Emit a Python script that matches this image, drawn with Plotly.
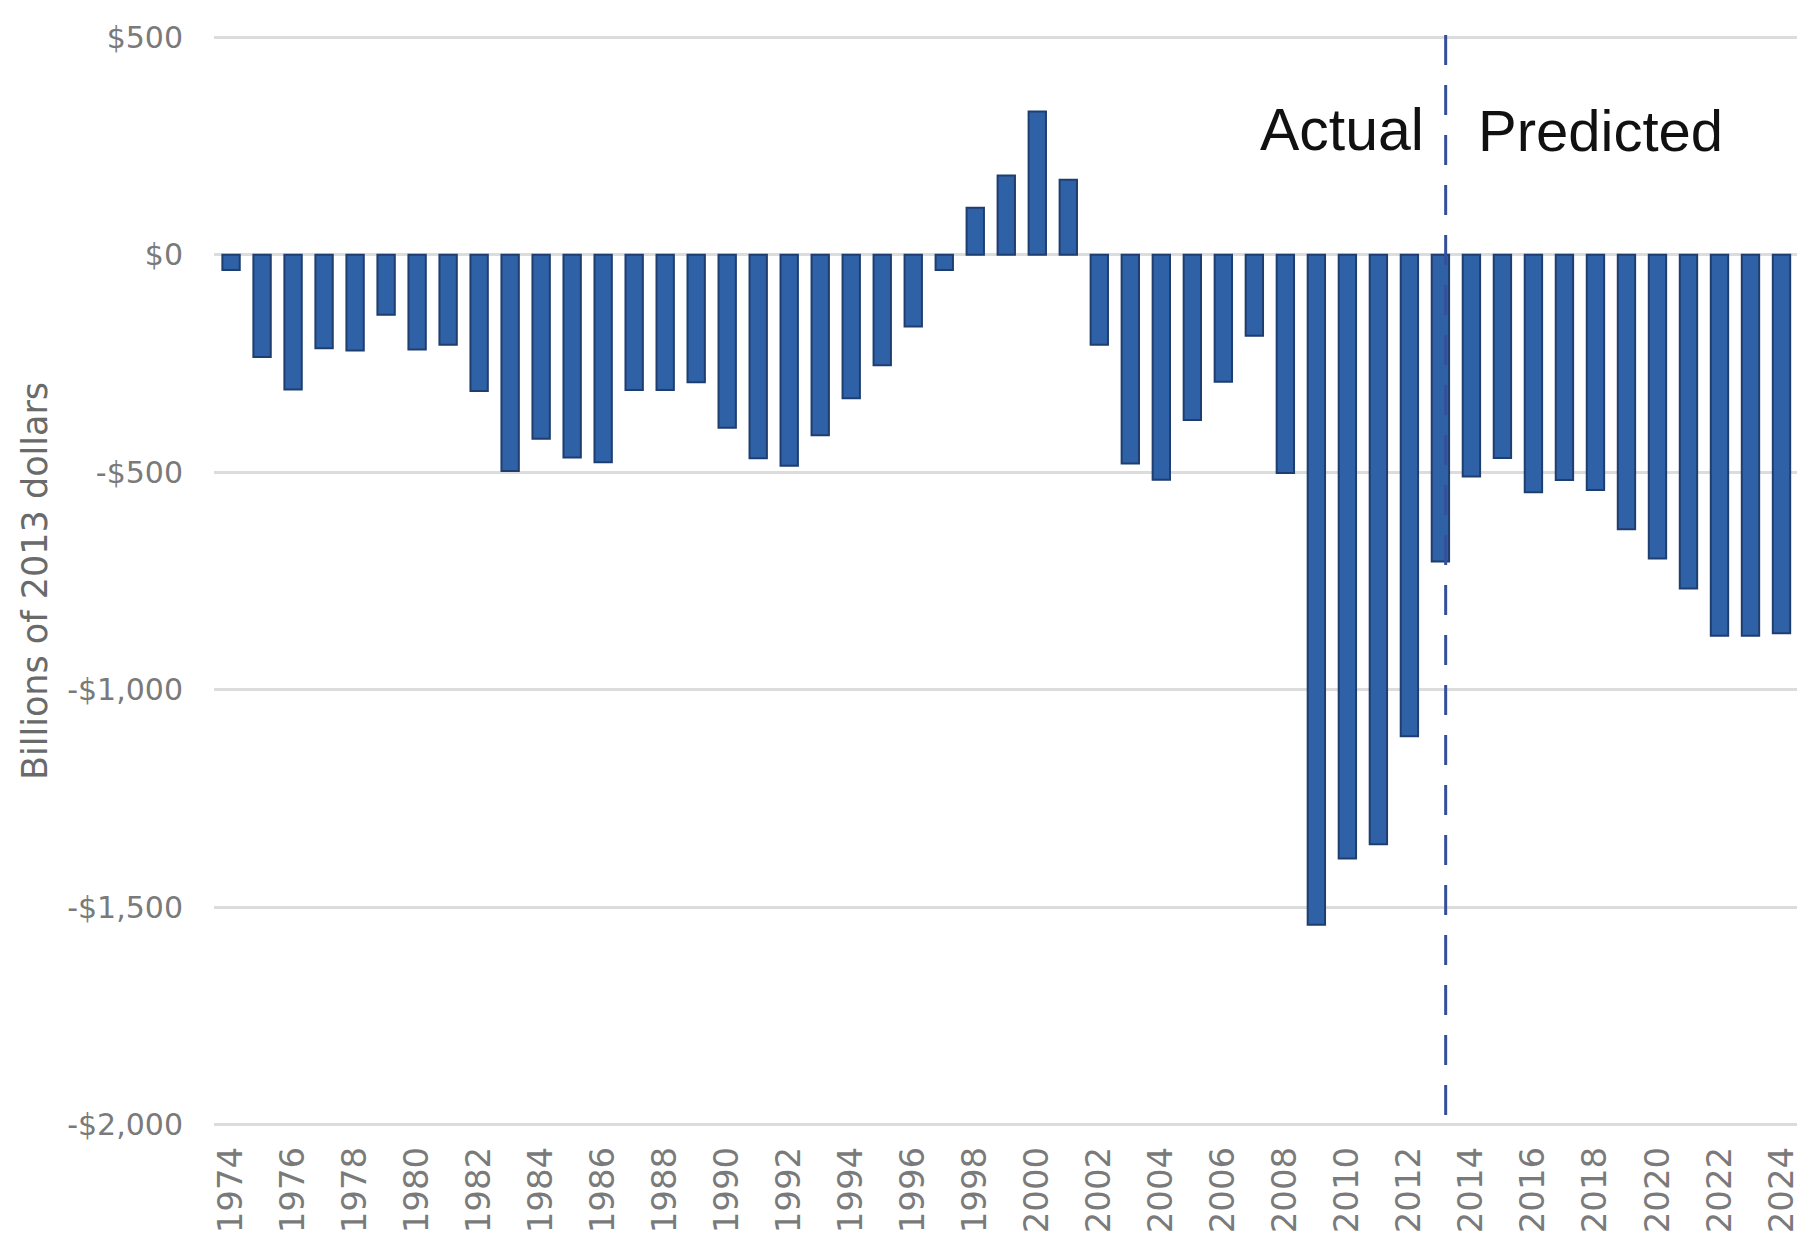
import plotly.graph_objects as go

years = list(range(1974, 2025))
deficit = [
    -35, -235, -310, -215, -220, -138, -218, -207, -313, -497,
    -423, -466, -477, -311, -311, -293, -398, -468, -485, -415,
    -330, -254, -165, -35, 108, 182, 329, 172, -207, -480,
    -517, -380, -292, -186, -502, -1540, -1388, -1355, -1107, -705,
    -510, -467, -546, -518, -541, -631, -698, -767, -876, -876,
    -870,
]
y_tickvals = [500, 0, -500, -1000, -1500, -2000]
y_ticktext = ["$500", "$0", "-$500", "-$1,000", "-$1,500", "-$2,000"]
x_tickvals = list(range(1974, 2025, 2))
x_ticktext = [str(v) for v in x_tickvals]
divider_year = 2013.17
y_title = "Billions of 2013 dollars"

fig = go.Figure()
fig.add_trace(go.Bar(
    x=years, y=deficit, width=0.56,
    marker=dict(color="#2F61A6", line=dict(color="#1F3E70", width=2)),
    showlegend=False,
))

fig.add_shape(type="line", xref="x", yref="y",
              x0=divider_year, x1=divider_year, y0=505, y1=-2005,
              line=dict(color="#34509A", width=3, dash="30px,20px"))

fig.add_annotation(x=2012.55, y=286, xref="x", yref="y", text="Actual",
                   showarrow=False, xanchor="right", yanchor="middle",
                   font=dict(family="Liberation Sans, Arial", size=59, color="#111111"))
fig.add_annotation(x=2014.15, y=286, xref="x", yref="y", text="Predicted",
                   showarrow=False, xanchor="left", yanchor="middle",
                   font=dict(family="Liberation Sans, Arial", size=58, color="#111111"))
fig.add_annotation(x=(35 - 214) / 1583, y=-750, xref="paper", yref="y", text=y_title,
                   showarrow=False, textangle=-90, xanchor="center", yanchor="middle",
                   font=dict(family="DejaVu Sans", size=35, color="#6a6a6a"))

fig.update_layout(
    width=1810, height=1242,
    margin=dict(l=206, r=21, t=17, b=123),
    paper_bgcolor="white", plot_bgcolor="white",
    bargap=0.4,
    xaxis=dict(range=[1973.45, 2024.5], tickmode="array", tickvals=x_tickvals,
               ticktext=x_ticktext, tickangle=-90, showgrid=False, zeroline=False,
               showline=False, ticks="", ticklabelstandoff=12,
               tickfont=dict(family="DejaVu Sans", size=34, color="#7a7a7a")),
    yaxis=dict(range=[-2005, 505], tickmode="array", tickvals=y_tickvals,
               ticktext=y_ticktext, showgrid=True, gridcolor="#dcdcdc", gridwidth=3,
               zeroline=False, showline=False, ticks="", ticklabelstandoff=30,
               tickfont=dict(family="DejaVu Sans", size=30, color="#7a7a7a")),
)

fig.write_html("out.html")
